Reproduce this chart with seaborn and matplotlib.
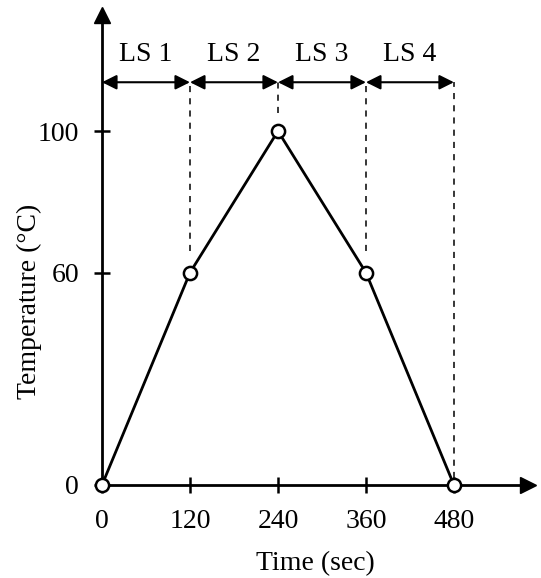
import matplotlib
matplotlib.use('Agg')
import matplotlib.pyplot as plt
import numpy as np
import pandas as pd
import seaborn as sns

# data
time_sec = [0, 120, 240, 360, 480]
temp_c = [0, 60, 100, 60, 0]
x_ticks = [0, 120, 240, 360, 480]
y_ticks = [0, 60, 100]
stage_labels = ['LS 1', 'LS 2', 'LS 3', 'LS 4']
stage_bounds = [0, 120, 240, 360, 480]
dash_bottom = [66, 105, 66, 2]

sns.set_style('white')
plt.rcParams['font.family'] = ['Liberation Serif', 'DejaVu Serif']
plt.rcParams['text.color'] = 'black'
plt.rcParams['axes.labelcolor'] = 'black'

df = pd.DataFrame({'Time': time_sec, 'Temp': temp_c})

fig = plt.figure(figsize=(5.41, 5.78), dpi=100)
ax = fig.add_axes([102/541, 93/578, 426/541, 470/578])

sns.lineplot(data=df, x='Time', y='Temp', ax=ax, color='black', lw=2,
             marker='o', markersize=9.5, markerfacecolor='white',
             markeredgecolor='black', markeredgewidth=1.8, clip_on=False, zorder=5)

ax.set_xlim(0, 581)
ax.set_ylim(0, 132.8)

row_y = 113.8
# stage arrows and labels
for i, lab in enumerate(stage_labels):
    a, b = stage_bounds[i], stage_bounds[i + 1]
    ax.annotate('', xy=(b, row_y), xytext=(a, row_y),
                arrowprops=dict(arrowstyle='<|-|>', color='black', lw=1.5,
                                mutation_scale=22, shrinkA=0, shrinkB=0))
    ax.text((a + b) / 2, 121.5, lab, ha='center', va='center', fontsize=20, color='black')

# dashed guides
for xb, yb in zip(stage_bounds[1:], dash_bottom):
    ax.plot([xb, xb], [yb, row_y], color='black', lw=1.1, ls=(0, (4, 4)), zorder=2)

# axes with arrow heads
for s in ['top', 'right']:
    ax.spines[s].set_visible(False)
for s in ['left', 'bottom']:
    ax.spines[s].set_linewidth(2)
    ax.spines[s].set_color('black')
ax.plot(1, 0, '>', color='black', markersize=11, transform=ax.transAxes, clip_on=False)
ax.plot(0, 1, '^', color='black', markersize=11, transform=ax.transAxes, clip_on=False)

ax.set_xticks(x_ticks)
ax.set_yticks(y_ticks)
ax.tick_params(axis='both', direction='inout', length=11, width=1.8, colors='black',
               labelsize=20, bottom=True, left=True)
ax.tick_params(axis='x', pad=12)
ax.tick_params(axis='y', pad=11)

ax.set_xlabel('Time (sec)', fontsize=20, labelpad=12, color='black')
ax.set_ylabel('Temperature (°C)', fontsize=20, color='black')
ax.yaxis.set_label_coords(-0.14, 0.39)
ax.grid(False)

fig.savefig('out.png', dpi=100)
